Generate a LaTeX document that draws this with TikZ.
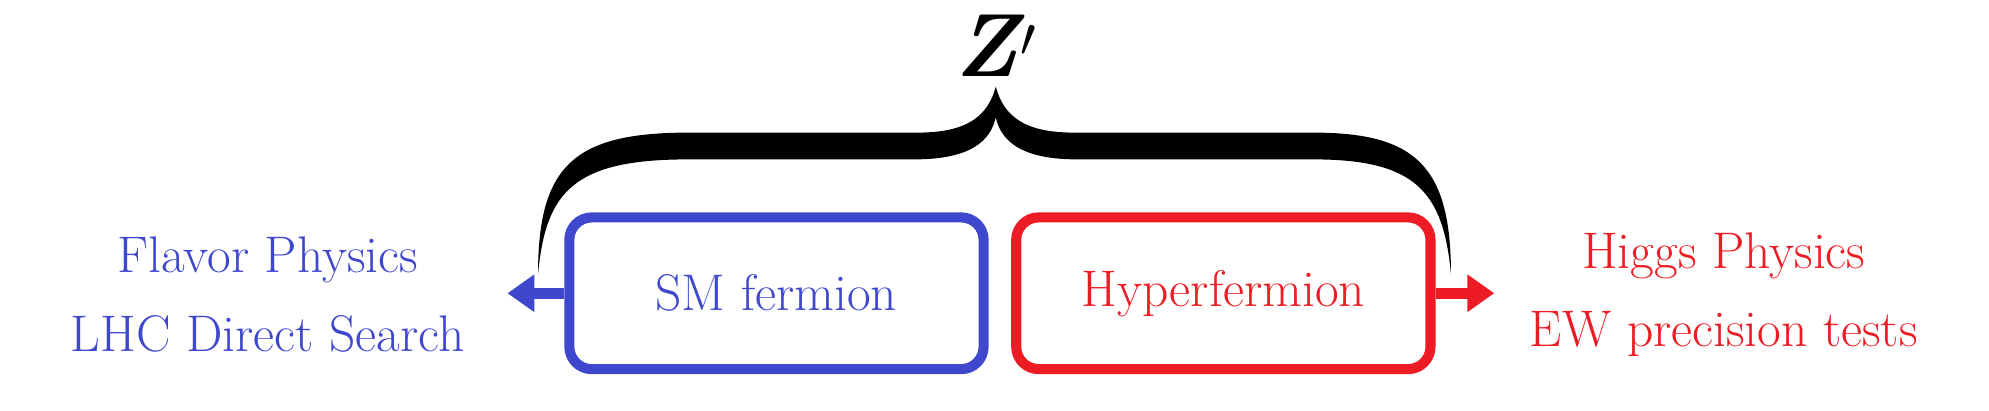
\documentclass[tikz,border=0pt]{standalone}
\usetikzlibrary{arrows.meta}
\definecolor{myblue}{HTML}{3F48CC}
\definecolor{myred}{HTML}{ED1C24}
\begin{document}
\begin{tikzpicture}[x=0.02cm,y=-0.02cm,
  box/.style={draw,line width=4.5pt,rounded corners=10pt,minimum width=6.5cm,minimum height=2.38cm,font=\fontsize{23}{26}\selectfont},
  side/.style={align=center,font=\fontsize{23}{35}\selectfont},
  arr/.style={line width=5pt,-{Triangle[length=12pt,width=16pt]}}]
\useasboundingbox (0,0) rectangle (1560,322);
\node[box,draw=myblue,text=myblue] (sm) at (609,230) {SM fermion};
\node[box,draw=myred,text=myred] (hf) at (959.5,230) {Hyperfermion};
\node[side,text=myblue] (lt) at (210,231) {Flavor Physics\\LHC Direct Search};
\node[side,text=myred] (rt) at (1352,231) {Higgs Physics\\EW precision tests};
\coordinate (la) at (398,230);
\coordinate (ra) at (1172,230);
\draw[arr,myblue] (sm.west) -- (la);
\draw[arr,myred] (hf.east) -- (ra);
\fill (422,215) .. controls (422,130) and (450,104) .. (540,104) -- (720,104)
  .. controls (760,104) and (775,90) .. (781,68)
  .. controls (787,90) and (802,104) .. (842,104) -- (1030,104)
  .. controls (1110,104) and (1138,130) .. (1138,215)
  .. controls (1132,150) and (1110,125) .. (1030,125) -- (845,125)
  .. controls (800,125) and (785,110) .. (781,92)
  .. controls (777,110) and (762,125) .. (717,125) -- (540,125)
  .. controls (450,125) and (428,150) .. (422,215) -- cycle;
\node[font=\fontsize{40}{44}\selectfont\bfseries\itshape] (z) at (781,36) {Z\kern1pt$'$};
\end{tikzpicture}
\end{document}
